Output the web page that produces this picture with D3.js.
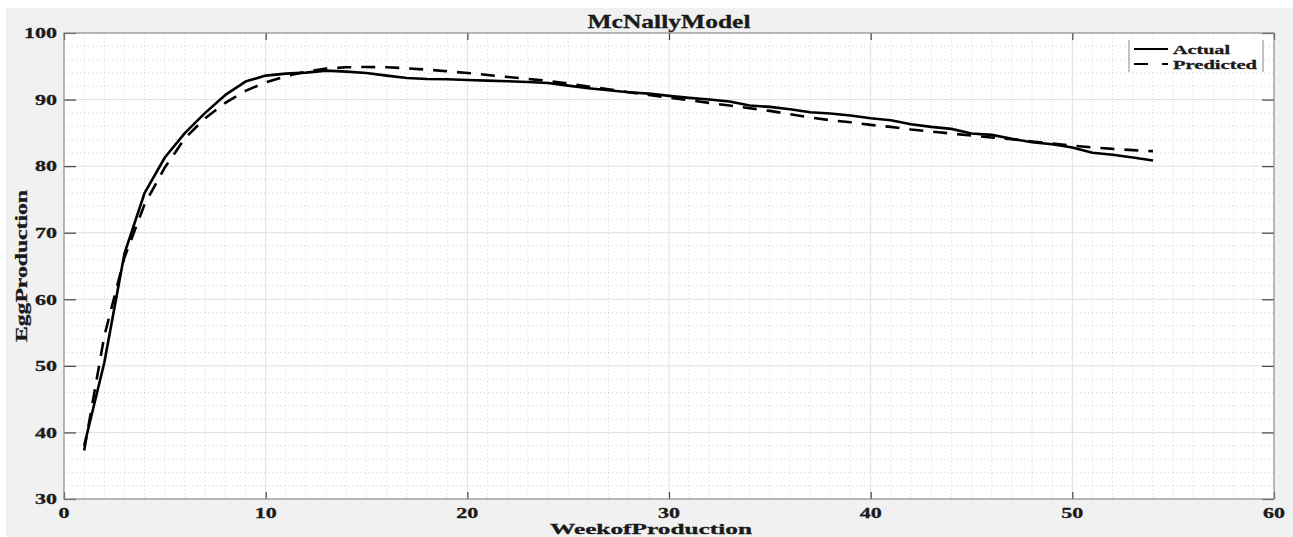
<!DOCTYPE html>
<html>
<head>
<meta charset="utf-8">
<script src="https://cdn.jsdelivr.net/npm/d3@7"></script>
<style>
  html, body { margin: 0; padding: 0; background: #fff; }
  svg { display: block; }
  text { font-family: 'Liberation Serif', 'Times New Roman', serif; font-weight: bold; fill: #1a1a1a; stroke: #1a1a1a; stroke-width: 0.3px; }
</style>
</head>
<body>
<div id="chart"></div>
<script>
    'use strict';

    // data
    const weeks = d3.range(1, 55);
    const actual = [
        38.0, 50.5, 66.9, 76.0, 81.3, 85.0, 88.0, 90.7, 92.7, 93.6,
        93.9, 94.05, 94.35, 94.2, 94.0, 93.6, 93.25, 93.1, 93.05, 92.95,
        92.85, 92.75, 92.65, 92.5, 92.1, 91.7, 91.4, 91.1, 90.9, 90.55,
        90.25, 90.0, 89.7, 89.1, 88.9, 88.55, 88.1, 87.9, 87.6, 87.2,
        86.9, 86.3, 85.9, 85.6, 84.9, 84.7, 84.1, 83.6, 83.3, 82.8,
        82.0, 81.7, 81.3, 80.85
    ];
    const predicted = [
        37.3, 54.5, 66.3, 74.3, 79.8, 84.2, 87.2, 89.5, 91.3, 92.6,
        93.5, 94.2, 94.65, 94.85, 94.9, 94.85, 94.7, 94.5, 94.25, 94.0,
        93.7, 93.4, 93.1, 92.8, 92.4, 91.95, 91.55, 91.1, 90.7, 90.3,
        89.9, 89.5, 89.1, 88.7, 88.3, 87.8, 87.3, 86.9, 86.6, 86.2,
        85.9, 85.5, 85.2, 84.9, 84.6, 84.3, 84.05, 83.7, 83.4, 83.1,
        82.8, 82.6, 82.4, 82.25
    ];
    const xTicks = [0, 10, 20, 30, 40, 50, 60];
    const yTicks = [30, 40, 50, 60, 70, 80, 90, 100];
    const seriesNames = ['Actual', 'Predicted'];

    const title = 'McNallyModel',
        xLabel = 'WeekofProduction',
        yLabel = 'EggProduction';

    let width = 1293,
        height = 537,
        margin = {
            top: 33,
            right: 19,
            bottom: 38,
            left: 64
        },
        plotW = width - margin.left - margin.right,
        plotH = height - margin.top - margin.bottom,

        // Styles
        figureColor = '#f0f1f0',
        majorGridColor = '#e0e0e0',
        minorGridColor = '#d2d2d2',
        boxColor = '#8a8a8a',
        tickColor = '#444',
        lineColor = '#000',
        digitWidth = 11;

    const svg = d3.select('#chart')
        .append('svg')
        .attr('width', width)
        .attr('height', height);

    // figure background
    svg.append('rect')
        .attr('x', 6)
        .attr('y', 8)
        .attr('width', width - 6)
        .attr('height', height - 8)
        .attr('fill', figureColor);

    const g = svg.append('g')
        .attr('transform', `translate(${margin.left},${margin.top})`);

    const x = d3.scaleLinear().domain([0, 60]).range([0, plotW]);
    const y = d3.scaleLinear().domain([30, 100]).range([plotH, 0]);

    g.append('rect')
        .attr('width', plotW)
        .attr('height', plotH)
        .attr('fill', '#fff');

    // minor grid, dotted
    const minorX = d3.range(1, 60).filter(d => d % 10 !== 0);
    const minorY = d3.range(32, 100, 2).filter(d => d % 10 !== 0);

    const minor = g.append('g').classed('minor-grid', true);
    minor.selectAll('line.v')
        .data(minorX)
        .join('line')
        .classed('v', true)
        .attr('x1', d => x(d)).attr('x2', d => x(d))
        .attr('y1', 0).attr('y2', plotH);
    minor.selectAll('line.h')
        .data(minorY)
        .join('line')
        .classed('h', true)
        .attr('x1', 0).attr('x2', plotW)
        .attr('y1', d => y(d)).attr('y2', d => y(d));
    minor.selectAll('line')
        .attr('stroke', minorGridColor)
        .attr('stroke-width', 1)
        .attr('stroke-dasharray', '1,3');

    // major grid
    const grid = g.append('g').classed('major-grid', true);
    grid.selectAll('line.v')
        .data(xTicks.slice(1, -1))
        .join('line')
        .classed('v', true)
        .attr('x1', d => x(d)).attr('x2', d => x(d))
        .attr('y1', 0).attr('y2', plotH);
    grid.selectAll('line.h')
        .data(yTicks.slice(1, -1))
        .join('line')
        .classed('h', true)
        .attr('x1', 0).attr('x2', plotW)
        .attr('y1', d => y(d)).attr('y2', d => y(d));
    grid.selectAll('line')
        .attr('stroke', majorGridColor)
        .attr('stroke-width', 1);

    // axes, ticks pointing inward
    function styleAxis(sel) {
        sel.select('.domain').remove();
        sel.selectAll('line').attr('stroke', tickColor).attr('stroke-width', 1.2);
    }

    g.append('g')
        .attr('transform', `translate(0,${plotH})`)
        .call(d3.axisBottom(x).tickValues(xTicks).tickSizeInner(-7).tickSizeOuter(0).tickFormat(''))
        .call(styleAxis);
    g.append('g')
        .call(d3.axisTop(x).tickValues(xTicks).tickSizeInner(-7).tickSizeOuter(0).tickFormat(''))
        .call(styleAxis);
    g.append('g')
        .call(d3.axisLeft(y).tickValues(yTicks).tickSizeInner(-12).tickSizeOuter(0).tickFormat(''))
        .call(styleAxis);
    g.append('g')
        .attr('transform', `translate(${plotW},0)`)
        .call(d3.axisRight(y).tickValues(yTicks).tickSizeInner(-12).tickSizeOuter(0).tickFormat(''))
        .call(styleAxis);

    // tick labels, stretched like the source figure
    g.append('g').selectAll('text')
        .data(xTicks)
        .join('text')
        .attr('x', d => x(d))
        .attr('y', plotH + 18.5)
        .attr('text-anchor', 'middle')
        .style('font-size', '15px')
        .attr('textLength', d => String(d).length * digitWidth)
        .attr('lengthAdjust', 'spacingAndGlyphs')
        .text(d => d);

    g.append('g').selectAll('text')
        .data(yTicks)
        .join('text')
        .attr('x', -7)
        .attr('y', d => y(d))
        .attr('dy', '0.35em')
        .attr('text-anchor', 'end')
        .style('font-size', '15px')
        .attr('textLength', d => String(d).length * digitWidth)
        .attr('lengthAdjust', 'spacingAndGlyphs')
        .text(d => d);

    // series
    const line = d3.line()
        .x((d, i) => x(weeks[i]))
        .y(d => y(d));

    g.append('path')
        .datum(predicted)
        .attr('d', line)
        .attr('fill', 'none')
        .attr('stroke', lineColor)
        .attr('stroke-width', 2.6)
        .attr('stroke-dasharray', '14,10');

    g.append('path')
        .datum(actual)
        .attr('d', line)
        .attr('fill', 'none')
        .attr('stroke', lineColor)
        .attr('stroke-width', 2.6)
        .attr('stroke-linejoin', 'round');

    // box
    g.append('rect')
        .attr('width', plotW)
        .attr('height', plotH)
        .attr('fill', 'none')
        .attr('stroke', boxColor)
        .attr('stroke-width', 1.2);

    // titles
    svg.append('text')
        .attr('x', margin.left + plotW / 2)
        .attr('y', 28)
        .attr('text-anchor', 'middle')
        .style('font-size', '19px')
        .attr('textLength', 163)
        .attr('lengthAdjust', 'spacingAndGlyphs')
        .text(title);

    svg.append('text')
        .attr('x', 651)
        .attr('y', 534)
        .attr('text-anchor', 'middle')
        .style('font-size', '15px')
        .attr('textLength', 202)
        .attr('lengthAdjust', 'spacingAndGlyphs')
        .text(xLabel);

    svg.append('text')
        .attr('transform', `translate(27,${margin.top + plotH / 2}) rotate(-90)`)
        .attr('text-anchor', 'middle')
        .style('font-size', '16px')
        .attr('textLength', 152)
        .attr('lengthAdjust', 'spacingAndGlyphs')
        .text(yLabel);

    // legend
    const legend = svg.append('g')
        .attr('transform', 'translate(1129,40)');

    legend.append('rect')
        .attr('width', 134)
        .attr('height', 32)
        .attr('fill', '#fff');
    legend.selectAll('line.border')
        .data([0, 134])
        .join('line')
        .classed('border', true)
        .attr('x1', d => d).attr('x2', d => d)
        .attr('y1', 0).attr('y2', 32)
        .attr('stroke', '#999')
        .attr('stroke-width', 1.2);

    const items = legend.selectAll('g.item')
        .data(seriesNames)
        .join('g')
        .classed('item', true)
        .attr('transform', (d, i) => `translate(0,${9 + i * 15})`);

    items.append('line')
        .attr('x1', 5).attr('x2', 39)
        .attr('stroke', lineColor)
        .attr('stroke-width', 2)
        .attr('stroke-dasharray', (d, i) => i ? '14,14' : null);

    items.append('text')
        .attr('x', 44)
        .attr('y', 4.5)
        .style('font-size', '13px')
        .attr('textLength', (d, i) => i ? 84 : 57)
        .attr('lengthAdjust', 'spacingAndGlyphs')
        .text(d => d);
</script>
</body>
</html>
